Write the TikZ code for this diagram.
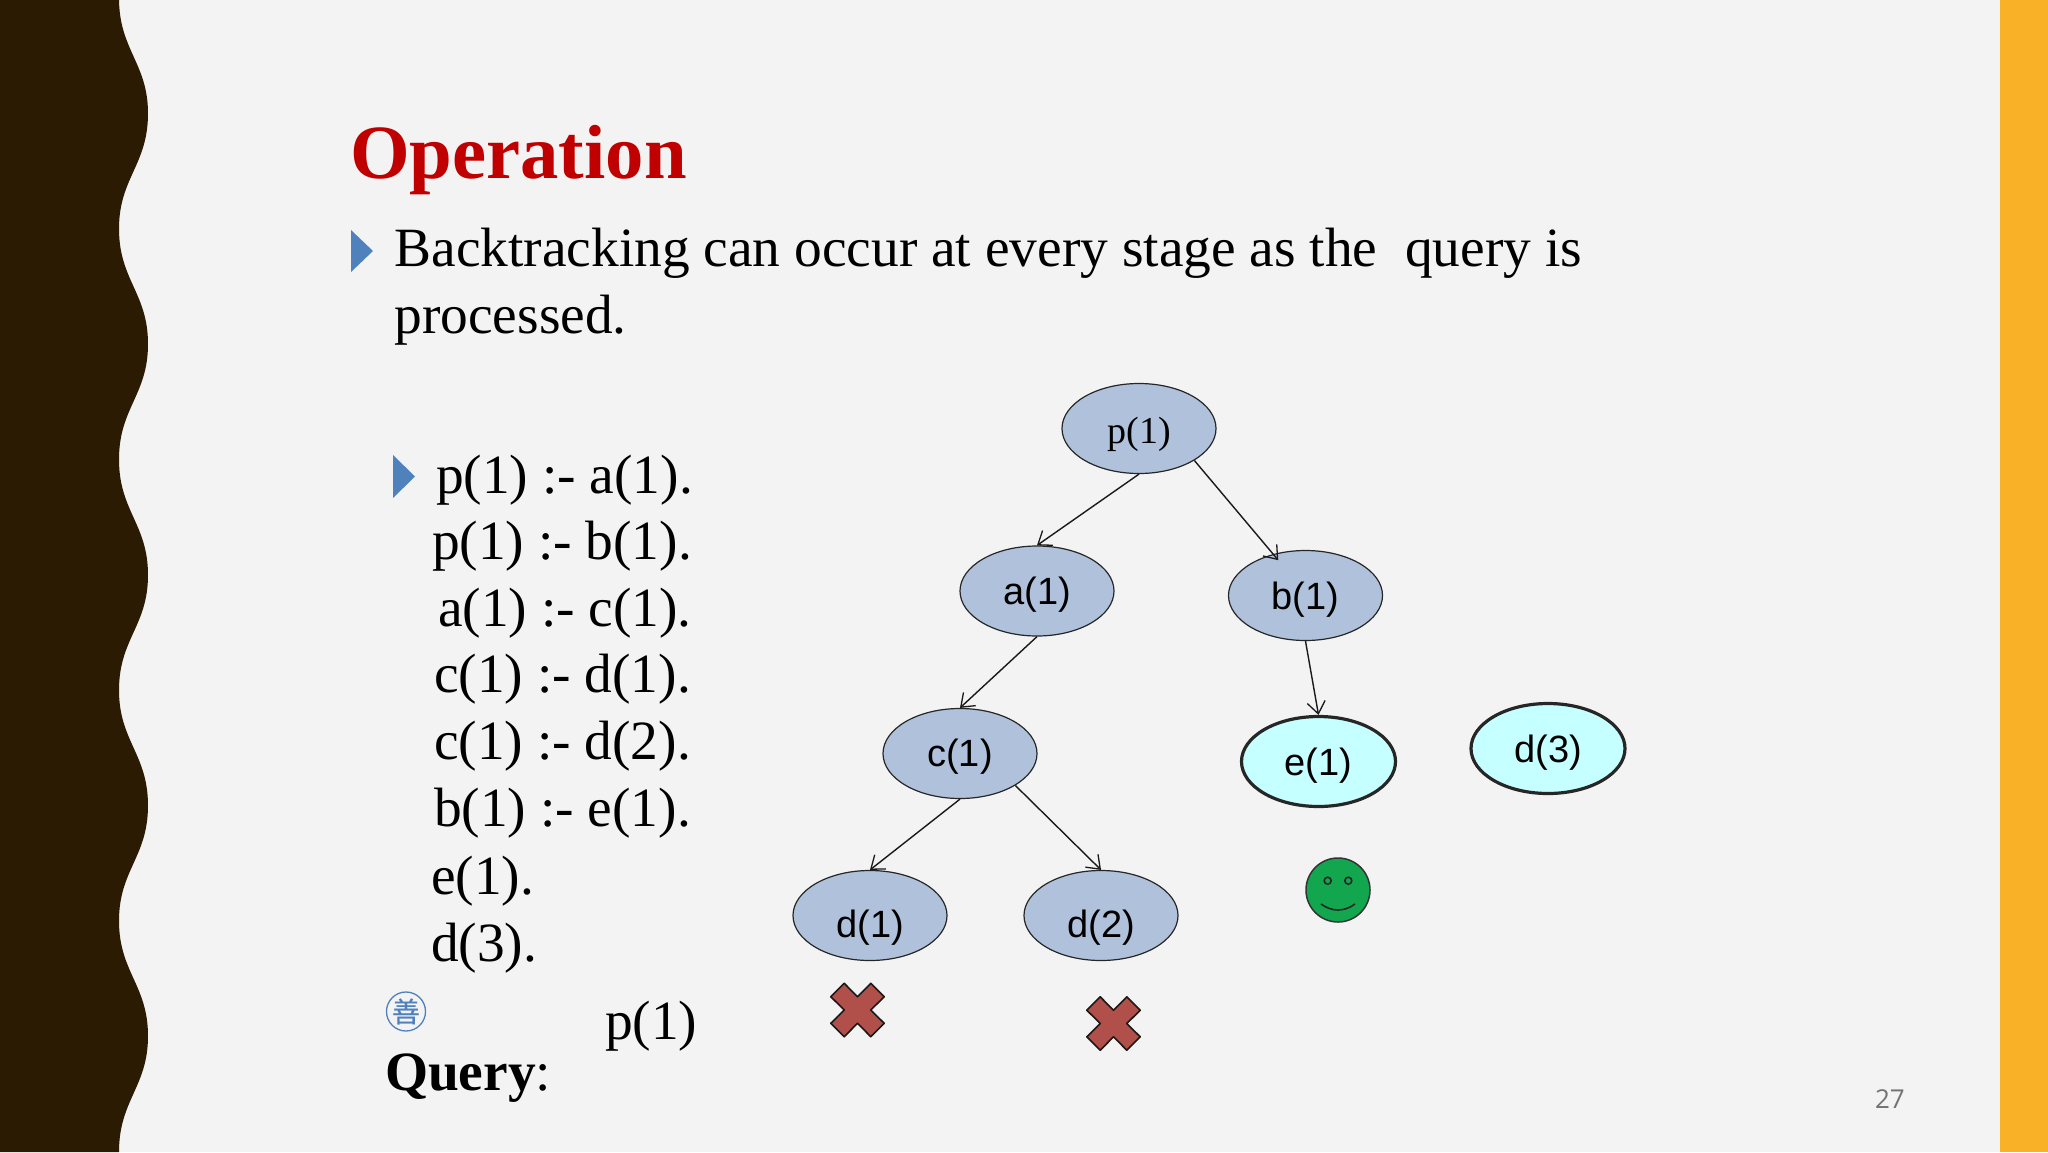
\documentclass[tikz,border=0pt]{standalone}
\usepackage{fontspec}
\setmainfont{Liberation Serif}
\newfontfamily\arialfont{Liberation Sans}
\newfontfamily\opensansfont{Open Sans}
\newfontfamily\cjkfont[FakeBold=0.6]{Noto Sans CJK TC}
\usetikzlibrary{shapes.geometric,arrows.meta,calc}
\definecolor{bgc}{HTML}{F3F3F3}
\definecolor{darkc}{HTML}{2B1B03}
\definecolor{bandc}{HTML}{F9B227}
\definecolor{nodec}{HTML}{B0C1DC}
\definecolor{goalc}{HTML}{C6FFFF}
\definecolor{bluec}{HTML}{4F81BD}
\definecolor{crossc}{HTML}{B14F4A}
\definecolor{smilec}{HTML}{12A74F}
\definecolor{titlec}{HTML}{C00000}
% text set #1 pt below the middle of its node
\newcommand{\lowtext}[2]{\raisebox{0pt}[\dimexpr 28pt+#1pt*2\relax][8.5pt]{#2}}
\tikzset{
  treenode/.style={ellipse,draw=black!85,line width=1.2pt,fill=nodec,minimum width=154pt,minimum height=90pt,inner sep=0pt,font=\arialfont\fontsize{38}{38}\selectfont},
  goalnode/.style={treenode,fill=goalc,line width=3.2pt},
  link/.style={-{Straight Barb[length=12pt,width=18pt,line width=1.3pt]},line width=1.4pt,black!90},
  bodytext/.style={anchor=base west,inner sep=0pt,outer sep=0pt,font=\fontsize{55.4}{55.4}\selectfont,text=black},
  cross/.style={fill=crossc,draw=black!90,line width=1.6pt,line join=round},
}
\begin{document}
\begin{tikzpicture}[x=1pt,y=-1pt]
\useasboundingbox (0,0) rectangle (2048,1152);
\fill[bgc] (0,0) rectangle (2048,1152);
\fill[bandc] (2000,0) rectangle (2048,1152);
% wavy left band
\fill[darkc] (0,-2) -- (119,-2)
  .. controls (119,50) and (148,63) .. (148,113.4)
  .. controls (148,165) and (119,178) .. (119,228.7)
  .. controls (119,280) and (148,293) .. (148,344)
  .. controls (148,395) and (119,408) .. (119,459.4)
  .. controls (119,511) and (148,524) .. (148,575)
  .. controls (148,626) and (119,639) .. (119,690.1)
  .. controls (119,741) and (148,754) .. (148,805.5)
  .. controls (148,857) and (119,870) .. (119,920.8)
  .. controls (119,972) and (148,985) .. (148,1036)
  .. controls (148,1087) and (119,1100) .. (119,1152)
  -- (0,1152) -- cycle;
% title and text
\node[anchor=base west,inner sep=0pt,text=titlec,font=\bfseries\fontsize{76.7}{76.7}\selectfont] (title) at (350,178) {Operation};
\fill[bluec] (351,230) -- (373,251) -- (351,272) -- cycle;
\node[bodytext] (line1) at (394.5,266) {Backtracking can occur at every stage as the\hspace{0.25em} query is};
\node[bodytext] (line2) at (394.5,333) {processed.};
\fill[bluec] (393,455) -- (415,476.5) -- (393,498) -- cycle;
\node[bodytext] (r1) at (436,493) {p(1) :- a(1).};
\node[bodytext] (r2) at (432,559) {p(1) :- b(1).};
\node[bodytext] (r3) at (438,626) {a(1) :- c(1).};
\node[bodytext] (r4) at (434,692) {c(1) :- d(1).};
\node[bodytext] (r5) at (434,759) {c(1) :- d(2).};
\node[bodytext] (r6) at (434,826) {b(1) :- e(1).};
\node[bodytext] (r7) at (431,894) {e(1).};
\node[bodytext] (r8) at (431,961) {d(3).};
\node[bodytext] (qval) at (605,1039) {p(1)};
\node[bodytext] (qlab) at (385,1090) {\textbf{Query}:};
% seal
\node[circle,draw=bluec,line width=1.3pt,minimum size=39pt,inner sep=0pt,text=bluec,font=\cjkfont\fontsize{28}{28}\selectfont] (seal) at (406,1011.5) {善};
% tree
\node[treenode,font=\fontsize{38}{38}\selectfont] (p) at (1139,428.5) {\lowtext{5}{p(1)}};
\node[treenode] (a) at (1037,591) {\lowtext{4}{a(1)}};
\node[treenode] (b) at (1305.5,595.5) {\lowtext{4}{b(1)}};
\node[treenode] (c) at (960,753.5) {\lowtext{3}{c(1)}};
\node[treenode] (d1) at (870,915.5) {\lowtext{12}{d(1)}};
\node[treenode] (d2) at (1101,915.5) {\lowtext{12}{d(2)}};
\node[goalnode] (e) at (1318.5,761.5) {\lowtext{4}{e(1)}};
\node[goalnode] (d3) at (1548,748.5) {\lowtext{4}{d(3)}};
\draw[link] (p.south) -- (a.north);
\draw[link,shorten >=-8pt] (p.-30) -- (b.128);
\draw[link] (a.south) -- (c.north);
\draw[link] (b.south) -- (e.north);
\draw[link] (c.south) -- (d1.north);
\draw[link] (c.-30) -- (d2.north);
% smiley
\node[circle,draw=black!80,line width=1.5pt,fill=smilec,minimum size=64pt,inner sep=0pt] (smile) at (1338,890) {};
\draw[black!85,line width=1.6pt] ($(smile)+(-10.3,-9.3)$) circle (3.5pt) ($(smile)+(10.3,-9.3)$) circle (3.5pt);
\draw[black!85,line width=1.6pt] ($(smile)+(-17,14)$) .. controls ($(smile)+(-6,22)$) and ($(smile)+(6,22)$) .. ($(smile)+(17,14)$);
% crosses
\foreach \cx/\cy in {857.5/1010,1113.5/1023.5}{
  \draw[cross,shift={(\cx,\cy)}] (-13.3,-26.7) -- (0,-13.3) -- (13.3,-26.7) -- (26.7,-13.3) -- (13.3,0) -- (26.7,13.3) -- (13.3,26.7) -- (0,13.3) -- (-13.3,26.7) -- (-26.7,13.3) -- (-13.3,0) -- (-26.7,-13.3) -- cycle;
}
% page number
\node[anchor=base east,inner sep=0pt,text=black!55,font=\opensansfont\fontsize{26}{26}\selectfont] (page) at (1905,1108) {27};
\end{tikzpicture}
\end{document}
